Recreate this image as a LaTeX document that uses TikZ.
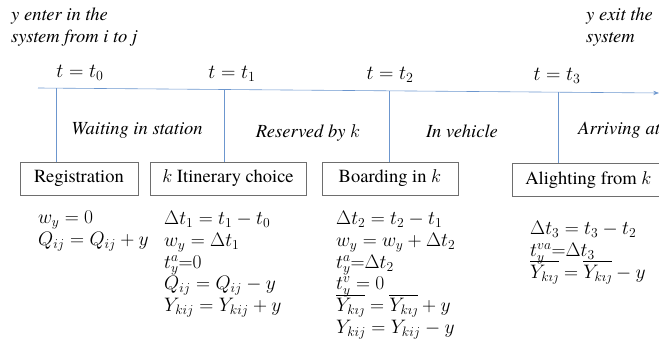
\documentclass[tikz,border=0pt]{standalone}
\usepackage{fix-cm}
\usepackage{amsmath}
\usepackage{fontspec}
\setmainfont{texgyretermes}[Extension=.otf, UprightFont=*-regular, ItalicFont=*-italic, BoldFont=*-bold, BoldItalicFont=*-bolditalic]
\usetikzlibrary{arrows.meta, positioning}
\definecolor{linecolor}{RGB}{108,150,206}
\definecolor{boxcolor}{RGB}{110,110,110}
\newcommand{\eqfont}{\fontsize{19.5}{21.8}\selectfont\lineskiplimit=-30pt\relax}

\begin{document}
\begin{tikzpicture}[x=1pt, y=-1pt, >=Stealth,
  every node/.style={font=\fontsize{18.5}{22}\selectfont, inner sep=0pt},
  stage/.style={draw=boxcolor, thick, minimum height=33pt},
  phase/.style={font=\fontsize{18.5}{21.5}\selectfont\itshape},
  stamp/.style={font=\fontsize{20}{22}\selectfont},
  eqs/.style={anchor=north west, align=left, font=\eqfont},
  tick/.style={draw=linecolor, semithick}]
\useasboundingbox (0,0) rectangle (659,339);
\clip (0,0) rectangle (659,339);

% Entry and exit notes
\node[phase, anchor=north west, align=left] (enter) at (11,8) {y enter in the\\system from i to j};
\node[phase, anchor=north west, align=left] (exit) at (586,8) {y exit the\\system};

% Time line
\coordinate (start) at (38,88);
\coordinate (end) at (659,93);
\draw[linecolor, semithick, ->] (start) -- (end);
\coordinate (c0) at (56,88.5);
\coordinate (c1) at (224,89.8);
\coordinate (c2) at (389,91.1);
\coordinate (c3) at (558,92.2);

% Time labels
\node[stamp] (t0) at (80,73) {$t = t_0$};
\node[stamp] (t1) at (232,74) {$t = t_1$};
\node[stamp] (t2) at (390,75) {$t = t_2$};
\node[stamp] (t3) at (557,76) {$t = t_3$};

% Phases
\node[phase] (wait) at (137,130) {Waiting in station};
\node[phase] (reserved) at (308,133) {Reserved by $k$};
\node[phase] (vehicle) at (462,131) {In vehicle};
\node[phase, anchor=west] (arriving) at (578,130) {Arriving at};

% Stages
\node[stage, minimum width=118pt] (reg) at (79,178.5) {Registration};
\node[stage, minimum width=156pt] (itin) at (228,178.5) {$k$ Itinerary choice};
\node[stage, minimum width=136pt] (board) at (390,178.5) {Boarding in $k$};
\node[stage, minimum width=152pt, anchor=west] (alight) at (512,180) {Alighting from $k$};

% Ticks
\path[tick] (c0) -- (c0 |- reg.north);
\path[tick] (c1) -- (c1 |- itin.north);
\path[tick] (c2) -- (c2 |- board.north);
\path[tick] (c3) -- (c3 |- alight.north);

% Updates
\node[eqs] (eq0) at (38,211) {$w_y = 0$\\$Q_{ij} = Q_{ij} + y$};
\node[eqs] (eq1) at (164,211) {$\Delta t_1 = t_1 - t_0$\\$w_y = \Delta t_1$\\$t_y^a{=}0$\\$Q_{ij} = Q_{ij} - y$\\$Y_{kij} = Y_{kij} + y$};
\node[eqs] (eq2) at (336,211) {$\Delta t_2 = t_2 - t_1$\\$w_y = w_y + \Delta t_2$\\$t_y^a{=}\Delta t_2$\\$t_y^v = 0$\\$\overline{Y_{k\imath\jmath}} = \overline{Y_{k\imath\jmath}} + y$\\$Y_{kij} = Y_{kij} - y$};
\node[eqs] (eq3) at (530,221) {$\Delta t_3 = t_3 - t_2$\\$t_y^{va}{=}\Delta t_3$\\$\overline{Y_{k\imath\jmath}} = \overline{Y_{k\imath\jmath}} - y$};
\end{tikzpicture}
\end{document}
